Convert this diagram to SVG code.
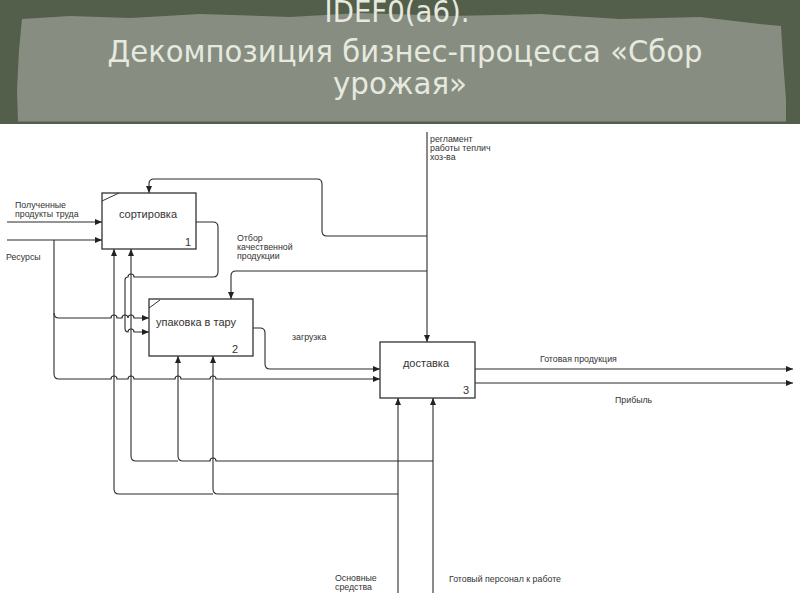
<svg xmlns="http://www.w3.org/2000/svg" width="800" height="600" viewBox="0 0 800 600">
<defs>
<marker id="arr" markerUnits="userSpaceOnUse" markerWidth="8" markerHeight="6" refX="7" refY="3" orient="auto">
<path d="M0,0 L7,3 L0,6 z" fill="#222"/>
</marker>
<style>
.c{fill:none;stroke:#2a2a2a;stroke-width:1.1}
.a{marker-end:url(#arr)}
.box{fill:#fff;stroke:#333;stroke-width:1.3}
.bt{font-family:"Liberation Sans",Arial,sans-serif;font-size:11px;fill:#333}
.lb{font-family:"Liberation Sans",Arial,sans-serif;font-size:8.8px;fill:#333}
.tt{font-family:"DejaVu Sans Condensed","DejaVu Sans",sans-serif;font-size:30px;fill:#e6e9df}
</style>
</defs>
<rect width="800" height="600" fill="#fff"/>
<g id="banner">
<rect x="0" y="0" width="800" height="124" fill="#535f4a"/>
<path d="M22,19 L70,16 L130,18 L200,14 L290,17 L360,13 L450,16 L540,14 L620,19 L700,17 L760,24 L781,26 L783,60 L786,100 L786,122 L18,122 L17,90 L19,50 Z" fill="#878e81"/>
<line x1="18" y1="121.5" x2="786" y2="121.5" stroke="#70776a" stroke-width="1"/>
<text class="tt" x="397" y="22" text-anchor="middle" textLength="145" lengthAdjust="spacingAndGlyphs">IDEF0(а6).</text>
<text class="tt" x="405" y="62" text-anchor="middle" textLength="595" lengthAdjust="spacingAndGlyphs">Декомпозиция бизнес-процесса «Сбор</text>
<text class="tt" x="400" y="94" text-anchor="middle" textLength="134" lengthAdjust="spacingAndGlyphs">урожая»</text>
</g>
<g id="connectors">
<path class="c a" d="M7,222 H102"/>
<path class="c a" d="M7,240 H102"/>
<path class="c a" d="M54,240 V313 Q54,318 59,318 H111 a3,3 0 0 1 6,0 H122 a3,3 0 0 1 6,0 a3,3 0 0 1 6,0 H149"/>
<path class="c a" d="M54,313 V374 Q54,379 59,379 H111 a3,3 0 0 1 6,0 H128 a3,3 0 0 1 6,0 H175 a3,3 0 0 1 6,0 H210 a3,3 0 0 1 6,0 H380"/>
<path class="c a" d="M196,222 H213 Q218,222 218,227 V272 Q218,277 213,277 H134 a3,3 0 0 0 -6,0 Q125,277 125,280 V328 Q125,332 128,332 a3,3 0 0 1 6,0 H149"/>
<path class="c a" d="M253,328 H260 Q265,328 265,333 V364 Q265,369 270,369 H380"/>
<path class="c a" d="M427,132 V342"/>
<path class="c a" d="M427,236 H327 Q322,236 322,231 V184 Q322,179 317,179 H154 Q149,179 149,184 V193"/>
<path class="c a" d="M427,271 H236 Q231,271 231,276 V299"/>
<path class="c a" d="M475,369 H793"/>
<path class="c a" d="M475,383 H793"/>
<path class="c a" d="M398,593 V398"/>
<path class="c a" d="M433,593 V398"/>
<path class="c a" d="M398,494 H218 Q213,494 213,489 V356"/>
<path class="c a" d="M213,494 H119 Q114,494 114,489 V249"/>
<path class="c a" d="M433,461 H216 a3,3 0 0 0 -6,0 H183 Q178,461 178,456 V356"/>
<path class="c a" d="M178,461 H136 Q131,461 131,456 V249"/>
</g>
<g id="node1">
<rect class="box" x="102" y="193" width="94" height="56"/>
<line x1="102" y1="201" x2="119" y2="193" stroke="#333" stroke-width="1"/>
<text class="bt" x="148" y="218" text-anchor="middle">сортировка</text>
<text class="bt" x="185" y="246">1</text>
</g>
<g id="node2">
<rect class="box" x="149" y="299" width="104" height="57"/>
<line x1="149" y1="308" x2="160" y2="300" stroke="#333" stroke-width="1"/>
<text class="bt" x="196" y="326" text-anchor="middle">упаковка в тару</text>
<text class="bt" x="232" y="353">2</text>
</g>
<g id="node3">
<rect class="box" x="380" y="342" width="95" height="56"/>
<text class="bt" x="426" y="367" text-anchor="middle">доставка</text>
<text class="bt" x="463" y="394">3</text>
</g>
<g id="labels">
<text class="lb" x="15" y="208">Полученные</text>
<text class="lb" x="15" y="217">продукты труда</text>
<text class="lb" x="6" y="260">Ресурсы</text>
<text class="lb" x="237" y="241">Отбор</text>
<text class="lb" x="237" y="250">качественной</text>
<text class="lb" x="237" y="259">продукции</text>
<text class="lb" x="430" y="142">регламент</text>
<text class="lb" x="430" y="151">работы теплич</text>
<text class="lb" x="430" y="160">хоз-ва</text>
<text class="lb" x="292" y="340">загрузка</text>
<text class="lb" x="540" y="362">Готовая продукция</text>
<text class="lb" x="615" y="403">Прибыль</text>
<text class="lb" x="335" y="581">Основные</text>
<text class="lb" x="335" y="590">средства</text>
<text class="lb" x="449" y="582">Готовый персонал к работе</text>
</g>
</svg>
